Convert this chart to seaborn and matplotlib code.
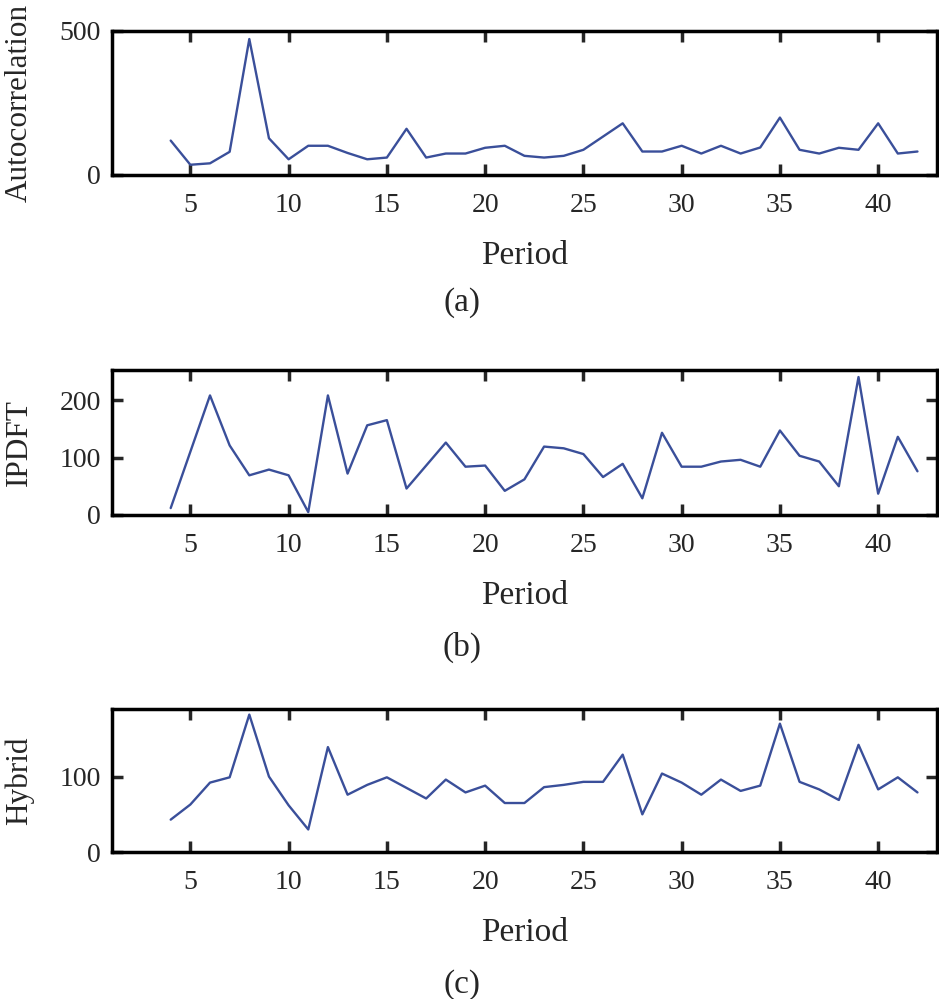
import numpy as np
import pandas as pd
import matplotlib
matplotlib.use("Agg")
import matplotlib.pyplot as plt
import seaborn as sns

# values
period = list(range(4, 43))
autocorr = [119, 35, 40, 80, 472, 127, 54, 101, 101, 76, 54, 60, 160, 60, 74, 74, 94, 101,
            66, 60, 66, 87, 133, 179, 81, 81, 101, 74, 101, 74, 95, 199, 87, 74, 94, 87, 179, 74, 81]
ipdft = [12, 110, 208, 121, 69, 79, 69, 5, 208, 72, 156, 165, 46, 86, 126, 84, 86, 42,
         62, 119, 116, 106, 66, 89, 29, 143, 84, 84, 93, 96, 84, 147, 103, 93, 50, 240, 37, 136, 76]
hybrid = [43, 63, 92, 99, 182, 100, 62, 30, 139, 76, 89, 99, 85, 71, 96, 79, 88, 65,
          65, 86, 89, 93, 93, 129, 50, 104, 92, 76, 96, 81, 88, 170, 93, 83, 69, 142, 83, 99, 79]

panels = [("Autocorrelation", autocorr, (0, 500), [0, 500], "(a)"),
          ("IPDFT", ipdft, (0, 252), [0, 100, 200], "(b)"),
          ("Hybrid", hybrid, (0, 189), [0, 100], "(c)")]

sns.set_style("ticks")
plt.rcParams['font.family'] = ['Liberation Serif', 'DejaVu Serif']

fig = plt.figure(figsize=(9.39, 9.99), dpi=100)
boxes = [(0.119, 0.825, 0.879, 0.144),
         (0.119, 0.4845, 0.879, 0.145),
         (0.119, 0.147, 0.879, 0.143)]
caption_y = [1 - 303 / 999, 1 - 647 / 999, 1 - 985 / 999]

for (name, vals, ylim, yticks, cap), box, cy in zip(panels, boxes, caption_y):
    ax = fig.add_axes(box)
    df = pd.DataFrame({"Period": period, name: vals})
    sns.lineplot(data=df, x="Period", y=name, ax=ax, color="#3a4f9a", linewidth=1.7)
    ax.set_xlim(1, 43)
    ax.set_ylim(*ylim)
    ax.set_xticks([5, 10, 15, 20, 25, 30, 35, 40])
    ax.set_yticks(yticks)
    ax.tick_params(direction="in", length=8, width=2.5, top=True, right=True,
                   labelsize=20, pad=8)
    ax.tick_params(axis="x", pad=13)
    for s in ax.spines.values():
        s.set_linewidth(2.5)
        s.set_color("black")
    ax.set_xlabel("Period", fontsize=24, labelpad=16)
    ax.set_ylabel(name, fontsize=22.5)
    ax.yaxis.set_label_coords(-0.094, 0.5)
    fig.text(0.492, cy, cap, fontsize=24, ha="center", va="center")

fig.savefig("out.png", dpi=100)
